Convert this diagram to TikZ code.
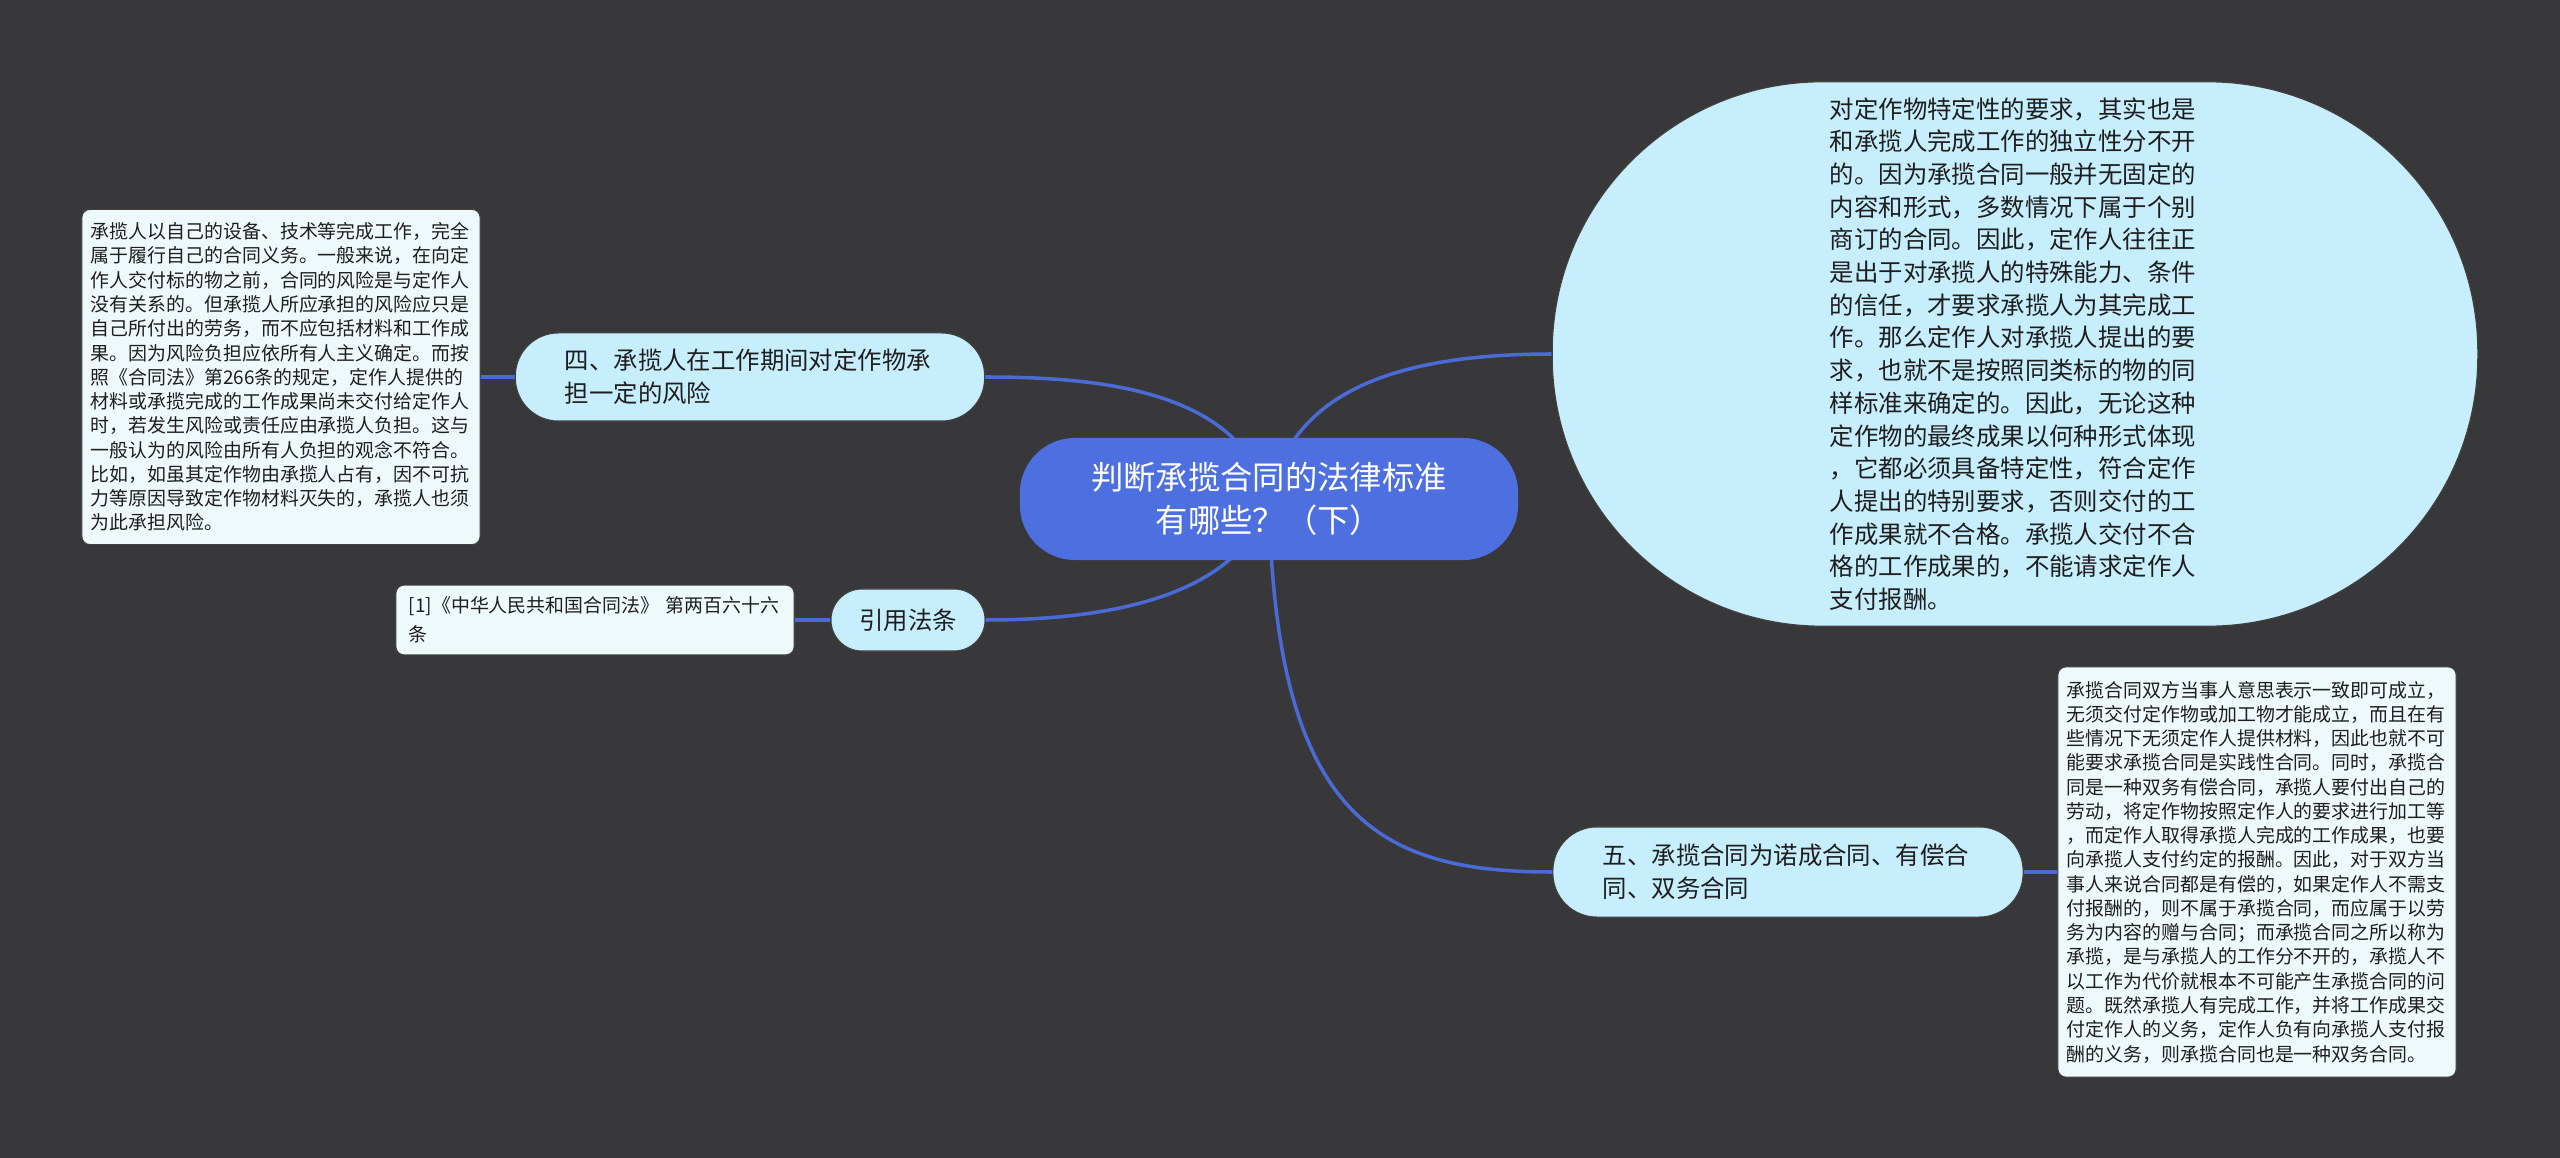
\documentclass[tikz,border=0pt]{standalone}
\usepackage{fontspec}
\setmainfont{Noto Sans CJK SC}
\usepackage{tikz}
\usetikzlibrary{backgrounds}
\definecolor{Canvas}{HTML}{38373A}
\definecolor{Royal}{HTML}{4D6FE0}
\definecolor{Wire}{HTML}{4A6AD6}
\definecolor{Sky}{HTML}{C7EEFC}
\definecolor{Paper}{HTML}{EEF9FC}
\definecolor{Ink}{HTML}{1E1E1E}

\begin{document}
\begin{tikzpicture}[x=0.01cm, y=0.01cm,
    rootnode/.style={fill=Royal, text=white, rounded corners=0.55cm, align=center,
      minimum width=4.98cm, minimum height=1.22cm,
      font={\fontsize{9.19pt}{12.2pt}\selectfont}},
    topic/.style={fill=Sky, draw=black!75, line width=0.3pt, text=Ink, align=left,
      font={\fontsize{6.94pt}{9.4pt}\selectfont}},
    leafbox/.style={fill=Paper, draw=black!75, line width=0.3pt, text=Ink, rounded corners=0.08cm,
      align=left, text width=3.80cm, inner xsep=0.09cm,
      font={\fontsize{5.38pt}{6.9pt}\selectfont}},
    wire/.style={draw=Wire, line width=1pt}]

  \node[rootnode] (root) at (1269,-499) {判断承揽合同的法律标准\\有哪些？（下）};

  \node[topic, rounded corners=0.43cm, text width=3.70cm, minimum width=4.69cm, minimum height=0.88cm]
    (n4) at (750,-377) {四、承揽人在工作期间对定作物承\\担一定的风险};
  \node[leafbox, minimum height=3.35cm] (leaf4) at (281,-377) {%
承揽人以自己的设备、技术等完成工作，完全\\
属于履行自己的合同义务。一般来说，在向定\\
作人交付标的物之前，合同的风险是与定作人\\
没有关系的。但承揽人所应承担的风险应只是\\
自己所付出的劳务，而不应包括材料和工作成\\
果。因为风险负担应依所有人主义确定。而按\\
照《合同法》第266条的规定，定作人提供的\\
材料或承揽完成的工作成果尚未交付给定作人\\
时，若发生风险或责任应由承揽人负担。这与\\
一般认为的风险由所有人负担的观念不符合。\\
比如，如虽其定作物由承揽人占有，因不可抗\\
力等原因导致定作物材料灭失的，承揽人也须\\
为此承担风险。};

  \node[topic, rounded corners=0.31cm, minimum width=1.54cm, minimum height=0.62cm]
    (cite) at (908,-620) {引用法条};
  \node[leafbox, text width=3.72cm, inner xsep=0.13cm, minimum height=0.68cm,
    font={\fontsize{5.38pt}{8.2pt}\selectfont}]
    (citebox) at (595,-620) {[1]《中华人民共和国合同法》 第两百六十六\\条};

  \node[topic, rounded corners=2.70cm, text width=3.70cm, minimum width=9.25cm, minimum height=5.44cm,
    font={\fontsize{6.94pt}{9.3pt}\selectfont}]
    (big) at (2015,-354) {%
对定作物特定性的要求，其实也是\\
和承揽人完成工作的独立性分不开\\
的。因为承揽合同一般并无固定的\\
内容和形式，多数情况下属于个别\\
商订的合同。因此，定作人往往正\\
是出于对承揽人的特殊能力、条件\\
的信任，才要求承揽人为其完成工\\
作。那么定作人对承揽人提出的要\\
求，也就不是按照同类标的物的同\\
样标准来确定的。因此，无论这种\\
定作物的最终成果以何种形式体现\\
，它都必须具备特定性，符合定作\\
人提出的特别要求，否则交付的工\\
作成果就不合格。承揽人交付不合\\
格的工作成果的，不能请求定作人\\
支付报酬。};

  \node[topic, rounded corners=0.44cm, text width=3.70cm, minimum width=4.70cm, minimum height=0.90cm]
    (n5) at (1788,-872) {五、承揽合同为诺成合同、有偿合\\同、双务合同};
  \node[leafbox, minimum height=4.10cm] (leaf5) at (2257,-872) {%
承揽合同双方当事人意思表示一致即可成立，\\
无须交付定作物或加工物才能成立，而且在有\\
些情况下无须定作人提供材料，因此也就不可\\
能要求承揽合同是实践性合同。同时，承揽合\\
同是一种双务有偿合同，承揽人要付出自己的\\
劳动，将定作物按照定作人的要求进行加工等\\
，而定作人取得承揽人完成的工作成果，也要\\
向承揽人支付约定的报酬。因此，对于双方当\\
事人来说合同都是有偿的，如果定作人不需支\\
付报酬的，则不属于承揽合同，而应属于以劳\\
务为内容的赠与合同；而承揽合同之所以称为\\
承揽，是与承揽人的工作分不开的，承揽人不\\
以工作为代价就根本不可能产生承揽合同的问\\
题。既然承揽人有完成工作，并将工作成果交\\
付定作人的义务，定作人负有向承揽人支付报\\
酬的义务，则承揽合同也是一种双务合同。};

  \begin{scope}[on background layer]
    \fill[Canvas] (0,0) rectangle (2560,-1158);
    \draw[wire] (root.center) .. controls (1240,-390) and (1100,-377) .. (n4.east);
    \draw[wire] (root.center) .. controls (1290,-400) and (1380,-354) .. (big.west);
    \draw[wire] (root.center) .. controls (1240,-600) and (1100,-620) .. (cite.east);
    \draw[wire] (root.center) .. controls (1275,-820) and (1380,-872) .. (n5.west);
    \draw[wire] (n4.west) -- (leaf4.east);
    \draw[wire] (cite.west) -- (citebox.east);
    \draw[wire] (n5.east) -- (leaf5.west);
  \end{scope}
\end{tikzpicture}
\end{document}
